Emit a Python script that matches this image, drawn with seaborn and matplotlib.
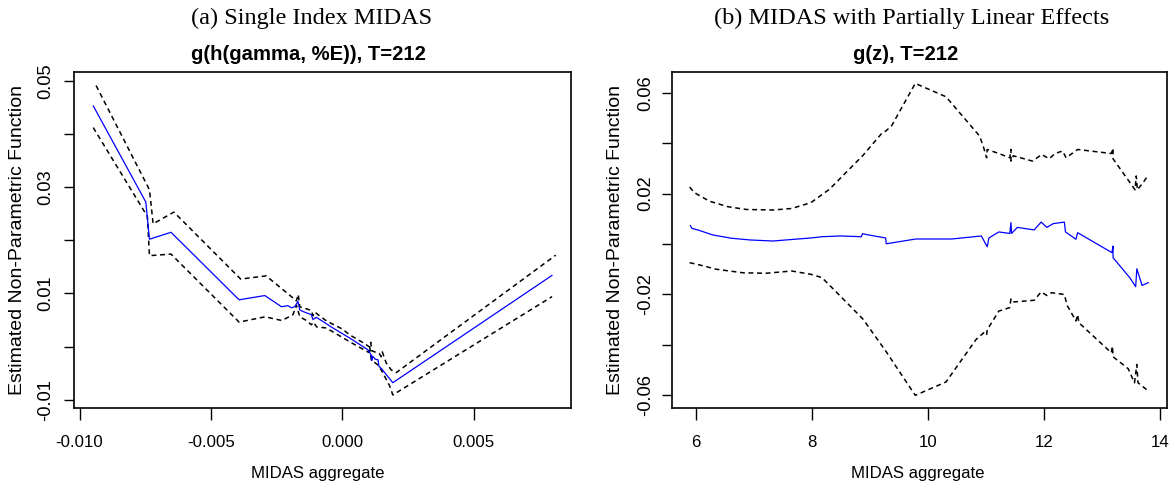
import matplotlib
matplotlib.use("Agg")
import matplotlib.pyplot as plt
import pandas as pd
import seaborn as sns

# ---------------- Panel (a): Single Index MIDAS ----------------
a_fit_x = [-0.00948, -0.00748, -0.00734, -0.00652, -0.00393, -0.00295, -0.00232, -0.00207,
           -0.00194, -0.00181, -0.00169, -0.00162, -0.00150, -0.00118, -0.00112, -0.00099,
           -0.00086, -0.00036, 0.00028, 0.00097, 0.00110, 0.00112, 0.00115, 0.00126,
           0.00136, 0.00139, 0.00148, 0.00192, 0.00798]
a_fit_y = [0.0453, 0.0272, 0.0202, 0.0215, 0.0088, 0.0096, 0.0075, 0.0077,
           0.0073, 0.0075, 0.0085, 0.0069, 0.0066, 0.0060, 0.0051, 0.0055,
           0.0051, 0.0035, 0.0016, -0.0006, -0.0016, -0.0026, -0.0018, -0.0024,
           -0.0025, -0.0037, -0.0041, -0.0068, 0.0134]

a_up_x = [-0.00937, -0.00734, -0.00720, -0.00641, -0.00387, -0.00290, -0.00194, -0.00175,
          -0.00168, -0.00162, -0.00150, -0.00118, -0.00112, -0.00105, -0.00095, -0.00060,
          0.00000, 0.00028, 0.00080, 0.00104, 0.00108, 0.00112, 0.00140, 0.00148,
          0.00152, 0.00167, 0.00186, 0.00205, 0.00812]
a_up_y = [0.0491, 0.0295, 0.0231, 0.0253, 0.0127, 0.0133, 0.0094, 0.0086,
          0.0098, 0.0075, 0.0073, 0.0068, 0.0058, 0.0065, 0.0061, 0.0048,
          0.0033, 0.0022, 0.0007, -0.0001, 0.0008, -0.0008, -0.0013, -0.0019,
          -0.0010, -0.0031, -0.0044, -0.0049, 0.0172]

a_lo_x = [-0.00948, -0.00742, -0.00734, -0.00652, -0.00393, -0.00294, -0.00230, -0.00188,
          -0.00175, -0.00162, -0.00140, -0.00118, -0.00110, -0.00098, -0.00061, 0.00028,
          0.00100, 0.00104, 0.00110, 0.00136, 0.00148, 0.00180, 0.00192, 0.00798]
a_lo_y = [0.0412, 0.0245, 0.0171, 0.0174, 0.0046, 0.0056, 0.0049, 0.0060,
          0.0078, 0.0056, 0.0050, 0.0041, 0.0046, 0.0037, 0.0035, 0.0009,
          -0.0011, 0.0000, -0.0025, -0.0035, -0.0044, -0.0074, -0.0091, 0.0094]

# ---------------- Panel (b): MIDAS with Partially Linear Effects ----------------
b_fit_x = [5.90, 5.93, 6.03, 6.29, 6.61, 6.94, 7.33, 7.65, 7.98, 8.17, 8.49, 8.85, 8.87,
           8.95, 9.27, 9.28, 9.79, 10.41, 10.92, 11.02, 11.05, 11.22, 11.41, 11.43, 11.44,
           11.54, 11.83, 11.95, 12.05, 12.16, 12.35, 12.37, 12.55, 12.58, 13.17, 13.19,
           13.19, 13.48, 13.58, 13.60, 13.69, 13.80]
b_fit_y = [0.0074, 0.0062, 0.0056, 0.0036, 0.0023, 0.0016, 0.0012, 0.0018, 0.0024, 0.0029,
           0.0032, 0.0029, 0.0041, 0.0037, 0.0024, 0.0001, 0.0020, 0.0020, 0.0032, -0.0011,
           0.0024, 0.0048, 0.0042, 0.0085, 0.0042, 0.0066, 0.0056, 0.0087, 0.0066, 0.0081,
           0.0087, 0.0048, 0.0019, 0.0045, -0.0034, -0.0008, -0.0054, -0.0134, -0.0169,
           -0.0098, -0.0164, -0.0153]

b_up_x = [5.89, 5.97, 6.23, 6.55, 6.87, 7.33, 7.65, 7.98, 8.30, 8.88, 9.21, 9.27, 9.37,
          9.78, 10.31, 10.89, 10.96, 11.01, 11.02, 11.22, 11.41, 11.43, 11.43, 11.47,
          11.80, 11.96, 12.09, 12.19, 12.32, 12.38, 12.58, 13.16, 13.19, 13.19, 13.57,
          13.59, 13.61, 13.70, 13.80]
b_up_y = [0.0226, 0.0204, 0.0170, 0.0148, 0.0137, 0.0135, 0.0141, 0.0164, 0.0217, 0.0352,
          0.0441, 0.0448, 0.0468, 0.0637, 0.0584, 0.0428, 0.0382, 0.0342, 0.0375, 0.0359,
          0.0342, 0.0375, 0.0329, 0.0350, 0.0329, 0.0355, 0.0338, 0.0359, 0.0369, 0.0342,
          0.0375, 0.0359, 0.0380, 0.0338, 0.0215, 0.0270, 0.0215, 0.0241, 0.0274]

b_lo_x = [5.89, 6.03, 6.35, 6.81, 7.20, 7.65, 7.98, 8.17, 8.43, 8.88, 9.27, 9.78, 10.31,
          10.83, 10.96, 11.01, 11.02, 11.22, 11.41, 11.43, 11.46, 11.83, 11.95, 12.05,
          12.13, 12.35, 12.40, 12.55, 12.58, 12.60, 13.16, 13.18, 13.19, 13.45, 13.56,
          13.60, 13.62, 13.80]
b_lo_y = [-0.0074, -0.0081, -0.0100, -0.0114, -0.0116, -0.0107, -0.0120, -0.0133, -0.0193,
          -0.0298, -0.0424, -0.0600, -0.0547, -0.0378, -0.0352, -0.0362, -0.0340, -0.0266,
          -0.0252, -0.0218, -0.0230, -0.0223, -0.0190, -0.0204, -0.0193, -0.0200, -0.0244,
          -0.0305, -0.0280, -0.0312, -0.0431, -0.0405, -0.0447, -0.0494, -0.0550, -0.0478,
          -0.0550, -0.0583]

# ---------------- Axis text ----------------
a_xticks = [-0.010, -0.005, 0.000, 0.005]
a_xticklabels = ["-0.010", "-0.005", "0.000", "0.005"]
a_yticks = [-0.01, 0.00, 0.01, 0.02, 0.03, 0.04, 0.05]
a_yticklabels = ["-0.01", "", "0.01", "", "0.03", "", "0.05"]
b_xticks = [6, 8, 10, 12, 14]
b_xticklabels = ["6", "8", "10", "12", "14"]
b_yticks = [-0.06, -0.04, -0.02, 0.00, 0.02, 0.04, 0.06]
b_yticklabels = ["-0.06", "", "-0.02", "", "0.02", "", "0.06"]

captions = ["(a) Single Index MIDAS", "(b) MIDAS with Partially Linear Effects"]
titles = ["g(h(gamma, %E)), T=212", "g(z), T=212"]
x_label = "MIDAS aggregate"
y_label = "Estimated Non-Parametric Function"

sns.set_theme(style="white")
plt.rcParams["font.family"] = ["Liberation Sans", "DejaVu Sans"]

W, H = 1175, 494
fig = plt.figure(figsize=(W / 100, H / 100), dpi=100)
fig.patch.set_facecolor("white")

box_top, box_bot = 72.3, 407.7
ax1 = fig.add_axes([74.3 / W, 1 - box_bot / H, (571 - 74.3) / W, (box_bot - box_top) / H])
ax2 = fig.add_axes([672 / W, 1 - box_bot / H, (1166.7 - 672) / W, (box_bot - box_top) / H])

DASH = (0, (3.2, 2.4))


def draw(ax, fx, fy, ux, uy, lx, ly):
    for xx, yy in [(ux, uy), (lx, ly)]:
        d = pd.DataFrame({"x": xx, "y": yy})
        sns.lineplot(data=d, x="x", y="y", ax=ax, sort=False, estimator=None,
                     color="black", linewidth=1.1, linestyle=DASH)
    d = pd.DataFrame({"x": fx, "y": fy})
    sns.lineplot(data=d, x="x", y="y", ax=ax, sort=False, estimator=None,
                 color="#0000FF", linewidth=0.9)


draw(ax1, a_fit_x, a_fit_y, a_up_x, a_up_y, a_lo_x, a_lo_y)
draw(ax2, b_fit_x, b_fit_y, b_up_x, b_up_y, b_lo_x, b_lo_y)

ax1.set_xlim(-0.0102, 0.0087)
ax1.set_ylim(-0.0115, 0.0516)
ax2.set_xlim(5.586, 14.115)
ax2.set_ylim(-0.0649, 0.0681)

ax1.set_xticks(a_xticks, a_xticklabels)
ax1.set_yticks(a_yticks, a_yticklabels)
ax2.set_xticks(b_xticks, b_xticklabels)
ax2.set_yticks(b_yticks, b_yticklabels)

label_x = [318, 918]
ylabel_x = [18, 615]
ypads = [7.2, 5.8]
for i, ax in enumerate([ax1, ax2]):
    ax.grid(False)
    ax.set_facecolor("white")
    for s in ax.spines.values():
        s.set_visible(True)
        s.set_color("black")
        s.set_linewidth(1.2)
    ax.tick_params(axis="x", bottom=True, direction="out", length=8.6, width=1.0,
                   color="black", pad=11, labelsize=12.1, labelcolor="black")
    ax.tick_params(axis="y", left=True, direction="out", length=7.2, width=1.0,
                   color="black", pad=ypads[i], labelsize=13.2, labelcolor="black")
    for t in ax.get_yticklabels():
        t.set_rotation(90)
        t.set_va("center")
        t.set_ha("right")
    ax.set_xlabel(x_label, fontsize=12.1, color="black")
    ax.xaxis.set_label_coords(label_x[i] / W, 1 - 473 / H, transform=fig.transFigure)
    ax.xaxis.label.set_va("center")
    ax.set_ylabel(y_label, fontsize=14, color="black")
    ax.yaxis.set_label_coords(ylabel_x[i] / W, 1 - 240 / H, transform=fig.transFigure)
    ax.yaxis.label.set_va("center")

cap_x = [312, 912]
tit_x = [308, 906]
for i in range(2):
    fig.text(cap_x[i] / W, 1 - 18 / H, captions[i], family=["Liberation Serif", "DejaVu Serif"],
             fontsize=17.5, ha="center", va="center", color="black")
    fig.text(tit_x[i] / W, 1 - 54 / H, titles[i], fontsize=14.6, fontweight="bold",
             ha="center", va="center", color="black")

fig.savefig("out.png", dpi=100, facecolor="white")
